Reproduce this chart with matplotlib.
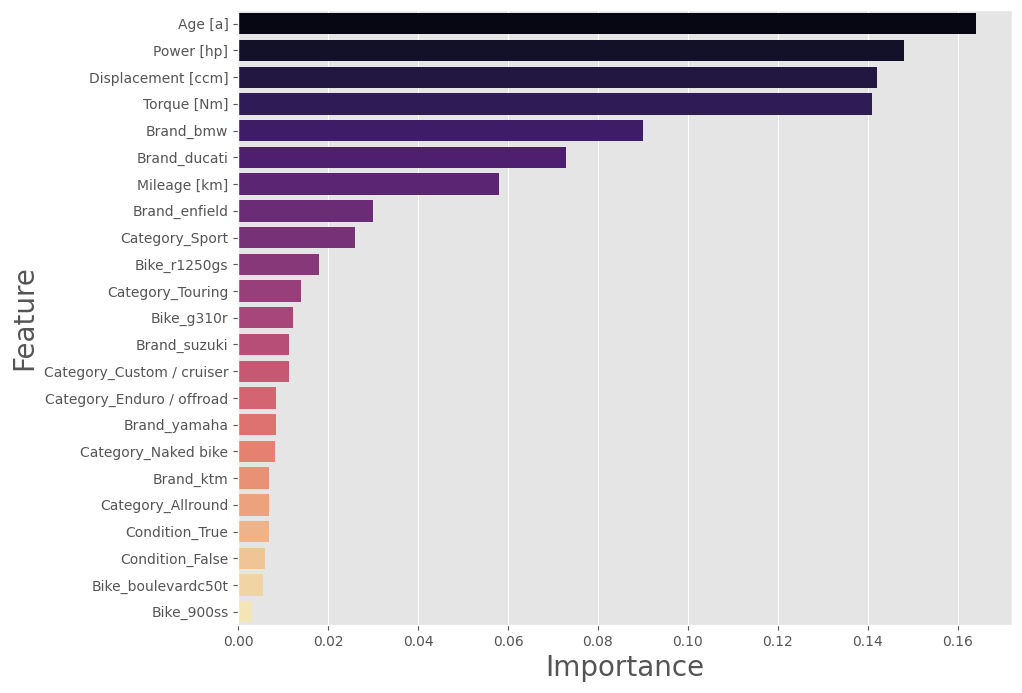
import matplotlib
matplotlib.use("Agg")
import matplotlib.pyplot as plt
import seaborn as sns

features = ["Age [a]", "Power [hp]", "Displacement [ccm]", "Torque [Nm]", "Brand_bmw",
            "Brand_ducati", "Mileage [km]", "Brand_enfield", "Category_Sport", "Bike_r1250gs",
            "Category_Touring", "Bike_g310r", "Brand_suzuki", "Category_Custom / cruiser",
            "Category_Enduro / offroad", "Brand_yamaha", "Category_Naked bike", "Brand_ktm",
            "Category_Allround", "Condition_True", "Condition_False", "Bike_boulevardc50t",
            "Bike_900ss"]
importance = [0.164, 0.148, 0.142, 0.141, 0.090, 0.073, 0.058, 0.030, 0.026, 0.018,
              0.014, 0.0123, 0.0113, 0.0112, 0.0085, 0.0085, 0.0081, 0.0068, 0.0068,
              0.0068, 0.0059, 0.0055, 0.003]

plt.style.use("ggplot")
fig, ax = plt.subplots(figsize=(10.22, 6.93), dpi=100)
fig.subplots_adjust(left=0.233, right=0.99, top=0.985, bottom=0.098)
sns.barplot(x=importance, y=features, hue=features, palette="magma", legend=False, ax=ax)
ax.set_xlabel("Importance", fontsize=20)
ax.set_ylabel("Feature", fontsize=20)
ax.set_xticks([0.0, 0.02, 0.04, 0.06, 0.08, 0.10, 0.12, 0.14, 0.16])
ax.set_xlim(0, 0.172)
ax.grid(axis="y", visible=False)
fig.savefig("out.png")
